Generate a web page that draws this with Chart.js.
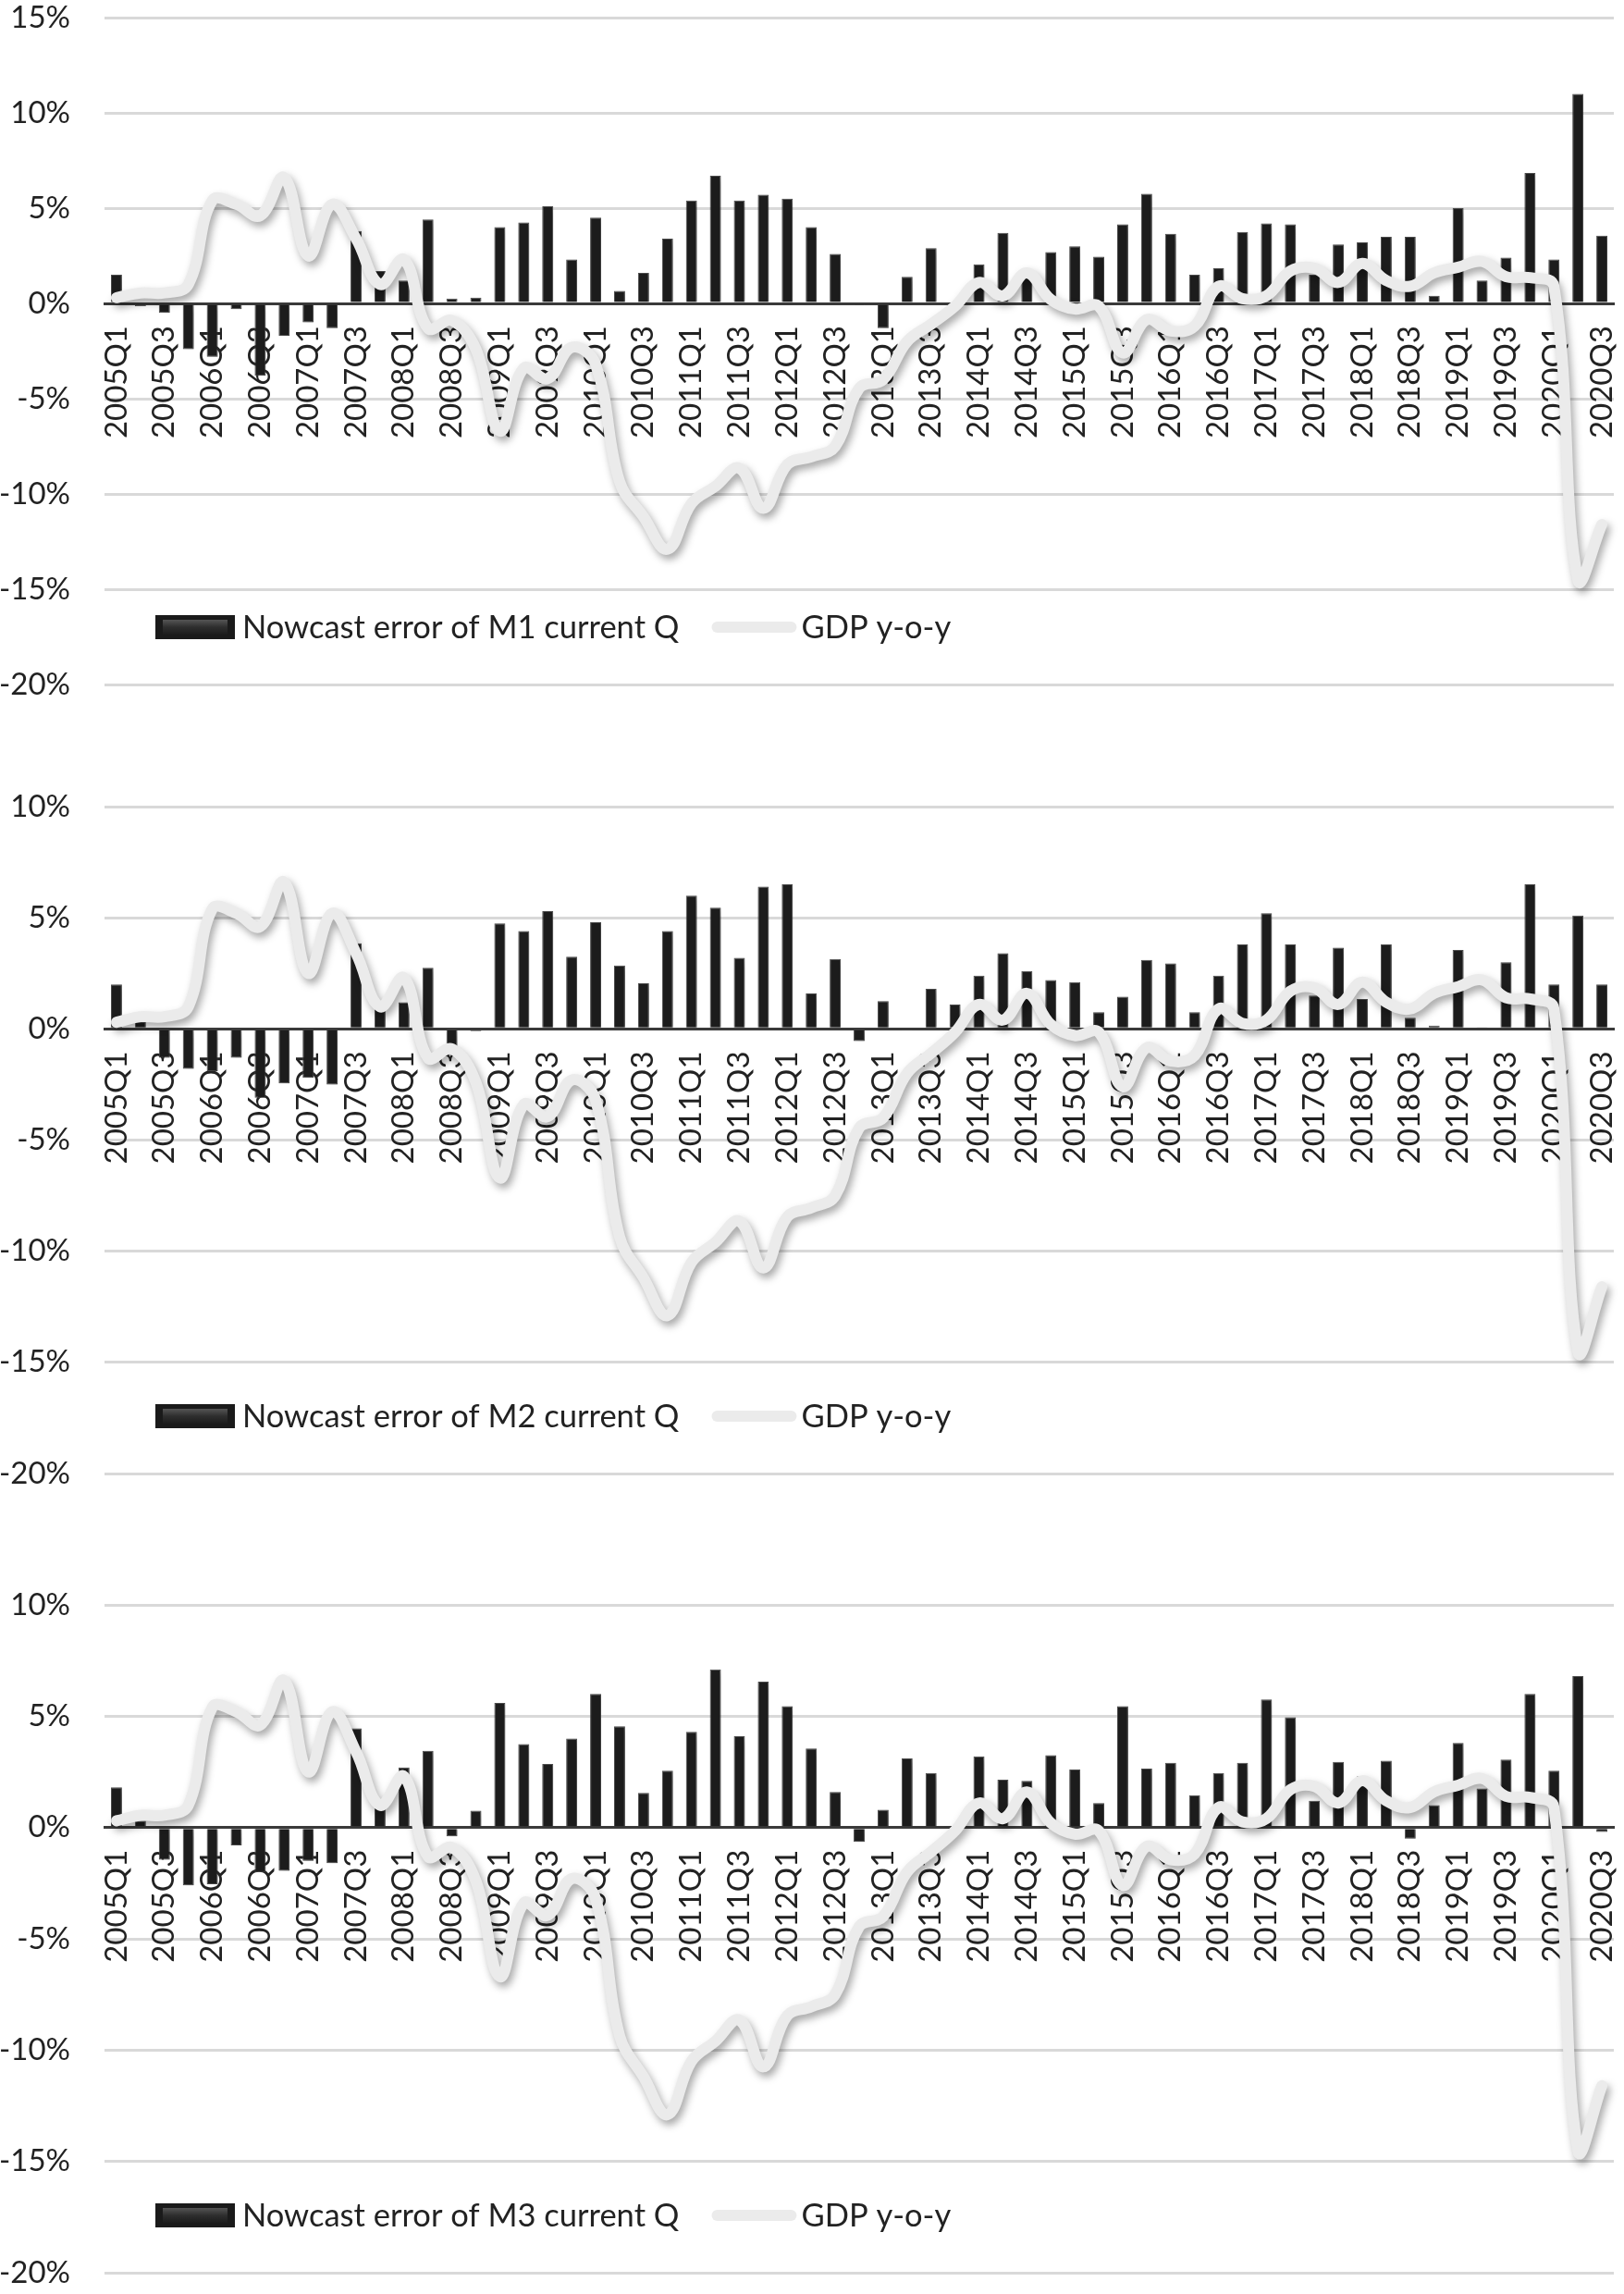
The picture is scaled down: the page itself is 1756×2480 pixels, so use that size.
<!DOCTYPE html>
<html>
<head>
<meta charset="utf-8">
<script src="https://cdn.jsdelivr.net/npm/chart.js@4"></script>
<style>
  body { margin: 0; background: #fff; width: 1756px; height: 2480px; position: relative; overflow: hidden; }
  canvas { position: absolute; left: 0; }
</style>
</head>
<body>
<canvas id="chartM1" width="1756" height="760" style="top:0px"></canvas>
<canvas id="chartM2" width="1756" height="760" style="top:853px"></canvas>
<canvas id="chartM3" width="1756" height="761" style="top:1716px"></canvas>
<script>
// Quarters on the x axis (every second one gets a label)
const quarters = [
  '2005Q1','2005Q2','2005Q3','2005Q4','2006Q1','2006Q2','2006Q3','2006Q4',
  '2007Q1','2007Q2','2007Q3','2007Q4','2008Q1','2008Q2','2008Q3','2008Q4',
  '2009Q1','2009Q2','2009Q3','2009Q4','2010Q1','2010Q2','2010Q3','2010Q4',
  '2011Q1','2011Q2','2011Q3','2011Q4','2012Q1','2012Q2','2012Q3','2012Q4',
  '2013Q1','2013Q2','2013Q3','2013Q4','2014Q1','2014Q2','2014Q3','2014Q4',
  '2015Q1','2015Q2','2015Q3','2015Q4','2016Q1','2016Q2','2016Q3','2016Q4',
  '2017Q1','2017Q2','2017Q3','2017Q4','2018Q1','2018Q2','2018Q3','2018Q4',
  '2019Q1','2019Q2','2019Q3','2019Q4','2020Q1','2020Q2','2020Q3'
];

// GDP y-o-y, same line in all three panels (%)
const gdpYoy = [
  0.3, 0.55, 0.55, 1.0, 5.4, 5.2, 4.6, 6.6, 2.5, 5.2, 3.4, 1.0, 2.3, -1.3, -0.9, -2.4,
  -6.7, -3.4, -3.95, -2.3, -3.2, -9.35, -11.2, -12.9, -10.5, -9.6, -8.65, -10.75, -8.45, -8.05, -7.5, -4.45,
  -4.0, -2.0, -1.1, -0.15, 1.1, 0.4, 1.6, 0.2, -0.3, -0.15, -2.6, -0.85, -1.45, -1.2, 0.9, 0.25,
  0.4, 1.7, 1.85, 1.1, 2.1, 1.2, 0.9, 1.6, 1.9, 2.2, 1.4, 1.35, 0.9, -14.5, -11.6
];

// Nowcast errors (%)
const errM1 = [
  1.5, -0.15, -0.5, -2.4, -2.8, -0.3, -3.8, -1.7, -1.0, -1.3, 3.8, 1.7, 1.2, 4.4, 0.25, 0.3,
  4.0, 4.25, 5.1, 2.3, 4.5, 0.65, 1.6, 3.4, 5.4, 6.7, 5.4, 5.7, 5.5, 4.0, 2.6, -0.1,
  -1.3, 1.4, 2.9, 0, 2.05, 3.7, 1.5, 2.7, 3.0, 2.45, 4.15, 5.75, 3.65, 1.5, 1.85, 3.75,
  4.2, 4.15, 1.5, 3.1, 3.2, 3.5, 3.5, 0.4, 5.0, 1.2, 2.4, 6.85, 2.3, 11.0, 3.55
];
const errM2 = [
  2.0, 0.3, -1.3, -1.8, -1.9, -1.3, -3.1, -2.45, -2.2, -2.5, 3.85, 0.9, 1.2, 2.75, -1.0, -0.1,
  4.75, 4.4, 5.3, 3.25, 4.8, 2.85, 2.05, 4.4, 6.0, 5.45, 3.2, 6.4, 6.5, 1.6, 3.15, -0.55,
  1.25, -0.05, 1.8, 1.1, 2.4, 3.4, 2.6, 2.2, 2.1, 0.75, 1.45, 3.1, 2.95, 0.75, 2.4, 3.8,
  5.2, 3.8, 1.5, 3.65, 1.35, 3.8, 0.5, 0.15, 3.55, 0.05, 3.0, 6.5, 2.0, 5.1, 2.0
];
const errM3 = [
  1.8, 0.3, -1.45, -2.6, -2.55, -0.8, -2.0, -1.95, -1.5, -1.6, 4.45, 0.95, 2.7, 3.45, -0.4, 0.75,
  5.6, 3.75, 2.85, 4.0, 6.0, 4.55, 1.55, 2.55, 4.3, 7.1, 4.1, 6.55, 5.45, 3.55, 1.6, -0.65,
  0.8, 3.1, 2.45, 0.05, 3.2, 2.15, 2.1, 3.25, 2.6, 1.1, 5.45, 2.65, 2.9, 1.45, 2.45, 2.9,
  5.75, 4.95, 1.2, 2.95, 2.3, 3.0, -0.5, 1.0, 3.8, 1.75, 3.05, 6.0, 2.55, 6.8, -0.2
];

const textColor = '#222';
const barColor = '#1c1c1c';
const lineColor = '#ebebeb';
const tickFont = { size: 33, family: 'Lato' };

// soft drop shadows, as in the original (line stronger, bars lighter)
const dropShadow = {
  id: 'dropShadow',
  beforeDatasetDraw(chart, args) {
    const c = chart.ctx;
    c.save();
    if (args.meta.type === 'line') {
      c.shadowColor = 'rgba(0,0,0,0.35)';
      c.shadowBlur = 9;
      c.shadowOffsetX = 3;
      c.shadowOffsetY = 5;
    } else {
      c.shadowColor = 'rgba(0,0,0,0.28)';
      c.shadowBlur = 8;
      c.shadowOffsetX = 3;
      c.shadowOffsetY = 3;
    }
  },
  afterDatasetDraw(chart) {
    chart.ctx.restore();
  }
};

// legend sits inside the plot, just above the bottom gridline
const insideLegend = {
  id: 'insideLegend',
  afterDraw(chart) {
    const { ctx, chartArea } = chart;
    const ds = chart.data.datasets;
    const y = chartArea.bottom - 62;
    ctx.save();
    ctx.font = '34.5px Lato';
    ctx.textBaseline = 'middle';

    // bevelled bar swatch
    let x = chartArea.left + 55;
    ctx.fillStyle = '#1a1a1a';
    ctx.fillRect(x, y - 13, 86, 26);
    const g = ctx.createLinearGradient(0, y - 9, 0, y + 9);
    g.addColorStop(0, '#5a5a5a');
    g.addColorStop(0.5, '#2e2e2e');
    g.addColorStop(1, '#1a1a1a');
    ctx.fillStyle = g;
    ctx.fillRect(x + 8, y - 8, 70, 16);

    x = chartArea.left + 149;
    ctx.fillStyle = textColor;
    ctx.fillText(ds[0].label, x, y + 1);
    x += ctx.measureText(ds[0].label).width + 35;

    ctx.strokeStyle = lineColor;
    ctx.lineWidth = 12;
    ctx.lineCap = 'round';
    ctx.beginPath();
    ctx.moveTo(x + 6, y);
    ctx.lineTo(x + 86, y);
    ctx.stroke();

    ctx.fillStyle = textColor;
    ctx.fillText(ds[1].label, x + 97, y + 1);
    ctx.restore();
  }
};

function makePanel(id, label, errors, yMax) {
  const ctx = document.getElementById(id).getContext('2d');
  return new Chart(ctx, {
    type: 'bar',
    data: {
      labels: quarters,
      datasets: [
        {
          type: 'bar',
          label: label,
          data: errors,
          backgroundColor: barColor,
          borderColor: '#4e4e4e',
          borderWidth: 1,
          barPercentage: 0.92,
          categoryPercentage: 0.5,
          order: 2
        },
        {
          type: 'line',
          label: 'GDP y-o-y',
          data: gdpYoy,
          borderColor: lineColor,
          borderWidth: 12,
          borderCapStyle: 'round',
          borderJoinStyle: 'round',
          tension: 0.4,
          pointRadius: 0,
          fill: false,
          order: 1
        }
      ]
    },
    options: {
      responsive: false,
      animation: false,
      layout: { padding: { top: 19, bottom: 20, left: 0, right: 11 } },
      plugins: {
        legend: { display: false },
        tooltip: { enabled: false }
      },
      scales: {
        x: {
          position: { y: 0 },
          afterFit: (scale) => { scale.paddingLeft = 0; scale.paddingRight = 0; },
          grid: { display: false, drawTicks: false },
          // one short dark dash under each category, like the bevelled bar bases
          border: { display: true, color: '#3a3a3a', width: 3, dash: [9, 1632 / 63 - 9], dashOffset: -8.5 },
          ticks: {
            autoSkip: false,
            minRotation: 90,
            maxRotation: 90,
            padding: 24,
            color: textColor,
            font: tickFont,
            callback: function (val, i) {
              return i % 2 === 0 ? this.getLabelForValue(val) : '';
            }
          }
        },
        y: {
          min: -20,
          max: yMax,
          afterFit: (scale) => { scale.width = 113; scale.paddingTop = 0; scale.paddingBottom = 0; },
          grid: { color: '#d9d9d9', lineWidth: 3, drawTicks: false },
          border: { display: false },
          ticks: {
            stepSize: 5,
            padding: 37,
            color: textColor,
            font: tickFont,
            callback: (v) => v + '%'
          }
        }
      }
    },
    plugins: [dropShadow, insideLegend]
  });
}

function drawAll() {
  makePanel('chartM1', 'Nowcast error of M1 current Q', errM1, 15);
  makePanel('chartM2', 'Nowcast error of M2 current Q', errM2, 10);
  makePanel('chartM3', 'Nowcast error of M3 current Q', errM3, 10);
}

if (document.fonts && document.fonts.load) {
  document.fonts.load('33px Lato').then(drawAll, drawAll);
} else {
  drawAll();
}
</script>
</body>
</html>
